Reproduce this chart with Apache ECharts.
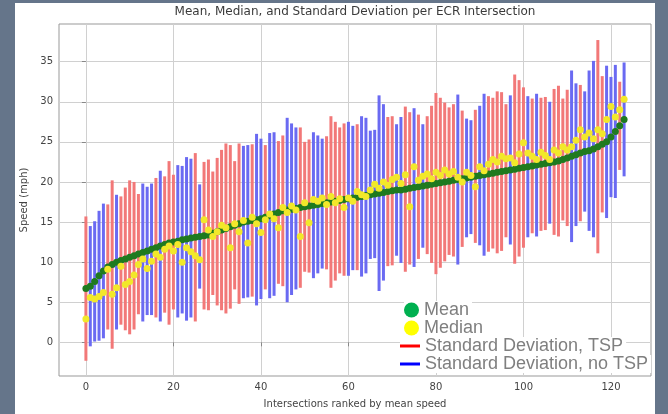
<!DOCTYPE html>
<html>
<head>
<meta charset="utf-8">
<script src="https://cdn.jsdelivr.net/npm/echarts@6.0.0/dist/echarts.min.js"></script>
<style>
    html, body { margin: 0; padding: 0; }
    #wrap { position: relative; width: 668px; height: 414px; background: #65758a; overflow: hidden; }
    #panel { position: absolute; left: 15px; top: 3px; width: 640px; height: 411px; background: #fff; }
    #J_chart { position: absolute; left: 0; top: 0; width: 668px; height: 414px; }
</style>
</head>
<body>
<div id="wrap"><div id="panel"></div><div id="J_chart"></div></div>
<script>
// intersections are ranked by mean speed, index 0..123
const meanSpeed = [
    6.7, 7.0, 7.6, 8.3, 8.9, 9.4, 9.7, 10.0, 10.2, 10.4,
    10.6, 10.8, 11.0, 11.2, 11.4, 11.6, 11.8, 12.0, 12.2, 12.4,
    12.5, 12.6, 12.8, 12.9, 13.0, 13.1, 13.2, 13.3, 13.4, 13.6,
    13.8, 14.0, 14.2, 14.4, 14.6, 14.8, 15.0, 15.1, 15.2, 15.3,
    15.4, 15.6, 15.8, 16.0, 16.2, 16.4, 16.5, 16.6, 16.7, 16.8,
    16.9, 17.0, 17.1, 17.2, 17.3, 17.4, 17.5, 17.6, 17.7, 17.8,
    17.9, 18.0, 18.1, 18.2, 18.3, 18.4, 18.5, 18.6, 18.7, 18.8,
    18.9, 19.0, 19.0, 19.1, 19.2, 19.3, 19.4, 19.5, 19.6, 19.7,
    19.8, 19.9, 20.0, 20.1, 20.2, 20.3, 20.4, 20.5, 20.6, 20.7,
    20.8, 20.9, 21.0, 21.1, 21.2, 21.3, 21.4, 21.5, 21.6, 21.7,
    21.8, 21.9, 22.0, 22.1, 22.2, 22.3, 22.4, 22.5, 22.6, 22.8,
    23.0, 23.2, 23.4, 23.6, 23.8, 23.9, 24.1, 24.4, 24.7, 25.0,
    25.6, 26.3, 27.0, 27.8
];
const medianSpeed = [
    2.9, 5.6, 5.4, 5.7, 6.2, 9.1, 6.0, 6.8, 9.5, 7.2,
    7.6, 8.4, 9.7, 10.4, 9.2, 10.1, 11.0, 10.6, 11.6, 12.0,
    11.4, 12.2, 10.0, 11.8, 11.3, 10.8, 10.3, 15.3, 14.0, 13.2,
    13.8, 14.6, 14.3, 11.8, 14.8, 13.8, 15.2, 12.4, 15.6, 14.8,
    13.7, 15.3, 16.0, 15.4, 14.3, 16.8, 16.2, 17.0, 16.5, 13.2,
    17.4, 14.9, 17.8, 17.6, 18.0, 17.2, 18.2, 17.4, 17.9, 16.8,
    18.0, 17.6, 18.8, 18.4, 18.2, 19.0, 19.7, 19.2, 20.0, 19.6,
    20.3, 20.6, 19.8, 20.9, 16.9, 21.9, 20.2, 20.7, 21.0, 20.4,
    21.2, 20.8, 21.5, 21.0, 21.3, 20.6, 20.0, 21.2, 20.8, 19.4,
    21.9, 21.4, 22.2, 22.8, 22.5, 23.2, 22.9, 23.0, 22.4, 23.5,
    24.9, 23.6, 23.2, 22.8, 23.7, 23.3, 22.8, 24.0, 23.6, 24.4,
    24.0, 24.4, 25.2, 26.5, 25.6, 26.1, 25.4, 26.5, 26.0, 27.8,
    29.4, 28.1, 29.0, 30.3
];
const stdSpeed = [
    9.0, 7.5, 7.5, 8.1, 8.4, 7.8, 10.5, 8.4, 8.0, 8.9,
    9.6, 9.2, 7.5, 8.6, 8.0, 8.2, 8.7, 9.4, 8.5, 10.2,
    8.4, 9.5, 9.2, 10.2, 9.9, 10.5, 6.5, 9.2, 9.4, 7.7,
    9.2, 10.0, 10.6, 10.2, 8.0, 10.0, 9.5, 9.5, 9.5, 10.7,
    10.0, 9.0, 10.3, 10.2, 8.9, 9.4, 11.5, 10.7, 10.1, 10.0,
    8.1, 8.3, 9.1, 8.6, 8.1, 8.3, 10.7, 9.9, 9.1, 9.5,
    9.6, 9.0, 9.1, 10.0, 9.7, 8.0, 8.0, 12.2, 11.0, 9.3,
    9.3, 8.2, 9.1, 10.3, 9.5, 9.9, 9.0, 7.7, 8.6, 9.8,
    11.3, 10.6, 9.9, 9.2, 9.5, 10.6, 8.5, 7.4, 7.1, 8.3,
    8.7, 10.1, 9.7, 9.4, 10.1, 9.9, 8.3, 9.3, 11.8, 11.0,
    10.0, 8.8, 8.4, 8.9, 8.3, 8.3, 7.6, 9.1, 9.4, 7.6,
    8.5, 10.7, 8.9, 8.5, 7.5, 10.0, 11.0, 13.3, 8.5, 9.5,
    7.5, 8.3, 5.5, 7.1
];
// 1 = intersection with TSP, 0 = no TSP
const tsp = [
    1, 0, 0, 0, 0, 1, 1, 0, 1, 1,
    1, 1, 1, 0, 0, 0, 1, 0, 1, 1,
    1, 0, 0, 0, 0, 1, 0, 1, 1, 1,
    1, 1, 1, 1, 1, 1, 0, 0, 1, 0,
    0, 1, 0, 0, 1, 1, 0, 0, 0, 1,
    1, 1, 0, 0, 0, 1, 1, 1, 1, 1,
    0, 0, 1, 0, 0, 0, 0, 0, 0, 1,
    1, 0, 0, 1, 1, 0, 1, 0, 1, 1,
    1, 1, 1, 1, 1, 0, 1, 0, 0, 1,
    0, 0, 1, 1, 1, 1, 1, 0, 1, 1,
    1, 0, 1, 0, 1, 1, 0, 1, 1, 1,
    1, 0, 0, 1, 0, 0, 0, 1, 1, 0,
    0, 0, 1, 0
];
const xTicks = [0, 20, 40, 60, 80, 100, 120];
const yTicks = [0, 5, 10, 15, 20, 25, 30, 35];

const FONT = 'DejaVu Sans';
const LEGEND_FONT = 'Liberation Sans';

function buildBars(flag) {
    let res = [];
    meanSpeed.forEach((m, i) => {
        if (tsp[i] === flag) {
            res.push([i, m, stdSpeed[i]]);
        }
    });
    return res;
}

// vertical line from mean - sd to mean + sd
function renderSd(params, api) {
    let x = api.value(0), m = api.value(1), s = api.value(2);
    let p1 = api.coord([x, m - s]);
    let p2 = api.coord([x, m + s]);
    return {
        type: 'line',
        shape: {x1: p1[0], y1: p1[1], x2: p2[0], y2: p2[1]},
        style: {stroke: api.visual('color'), lineWidth: 3}
    };
}

function legendAt(top, left, name, icon, color, w, h) {
    return {
        top: top,
        left: left,
        padding: [0, 3, 0, 0],
        backgroundColor: '#fff',
        itemWidth: w,
        itemHeight: h,
        selectedMode: false,
        textStyle: {color: '#7f7f7f', fontSize: 18, fontFamily: LEGEND_FONT, lineHeight: 18},
        data: [{name: name, icon: icon, itemStyle: {color: color, borderWidth: 0}}]
    };
}

function initChart() {
    let options = {
        animation: false,
        textStyle: {fontFamily: FONT},
        graphic: [{
            type: 'text',
            x: 355,
            y: 12,
            style: {
                text: 'Mean, Median, and Standard Deviation per ECR Intersection',
                textAlign: 'center',
                textVerticalAlign: 'middle',
                fontSize: 12,
                fontFamily: FONT,
                fill: '#3a3a3a'
            }
        }],
        grid: {
            left: 59,
            right: 17,
            top: 24,
            bottom: 37,
            show: true,
            borderColor: '#999',
            borderWidth: 1
        },
        legend: [
            legendAt(301, 404, 'Mean', 'circle', '#00b050', 15, 15),
            legendAt(319, 404, 'Median', 'circle', '#ffff00', 15, 15),
            legendAt(337, 400, 'Standard Deviation, TSP', 'rect', '#ff0000', 20, 3),
            legendAt(355, 400, 'Standard Deviation, no TSP', 'rect', '#0000ff', 20, 3)
        ],
        xAxis: {
            type: 'value',
            min: -6.15,
            max: 129.15,
            name: 'Intersections ranked by mean speed',
            nameLocation: 'middle',
            nameGap: 23,
            nameTextStyle: {fontSize: 10, color: '#444', fontFamily: FONT},
            axisLine: {show: false},
            axisTick: {show: true, length: 4, customValues: xTicks, lineStyle: {color: '#888'}},
            axisLabel: {customValues: xTicks, fontSize: 10, color: '#444', margin: 6},
            splitLine: {show: true, lineStyle: {color: '#d0d0d0', width: 1}}
        },
        yAxis: {
            type: 'value',
            min: -4.2,
            max: 39.7,
            name: 'Speed (mph)',
            nameLocation: 'middle',
            nameRotate: 90,
            nameGap: 27,
            nameTextStyle: {fontSize: 10, color: '#444', fontFamily: FONT},
            axisLine: {show: false},
            axisTick: {show: true, length: 4, customValues: yTicks, lineStyle: {color: '#888'}},
            axisLabel: {customValues: yTicks, fontSize: 10, color: '#444', margin: 6},
            splitLine: {show: true, lineStyle: {color: '#d0d0d0', width: 1}}
        },
        series: [{
            name: 'Standard Deviation, TSP',
            type: 'custom',
            renderItem: renderSd,
            itemStyle: {color: '#f27878'},
            encode: {x: 0, y: 1},
            z: 2,
            data: buildBars(1)
        }, {
            name: 'Standard Deviation, no TSP',
            type: 'custom',
            renderItem: renderSd,
            itemStyle: {color: '#6a6af2'},
            encode: {x: 0, y: 1},
            z: 2,
            data: buildBars(0)
        }, {
            name: 'Mean',
            type: 'scatter',
            symbolSize: 7,
            itemStyle: {color: '#1f7a1f', opacity: 1},
            z: 3,
            data: meanSpeed.map((m, i) => [i, m])
        }, {
            name: 'Median',
            type: 'scatter',
            symbolSize: 7,
            itemStyle: {color: '#f2e82a', opacity: 1},
            z: 4,
            data: medianSpeed.map((m, i) => [i, m])
        }]
    };
    let chart = echarts.init(document.getElementById('J_chart'), null, {renderer: 'canvas'});
    chart.setOption(options);
}

initChart();
</script>
</body>
</html>
